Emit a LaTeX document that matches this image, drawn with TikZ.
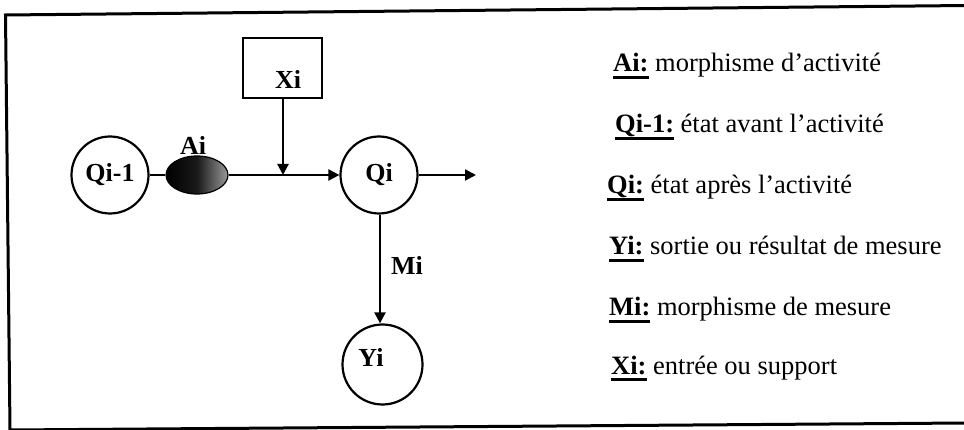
\documentclass[tikz,border=0pt]{standalone}
\usepackage{fontspec}
\setmainfont{Liberation Serif}
\usetikzlibrary{arrows.meta,shapes.geometric}
\newcommand\ulb[1]{\setbox0\hbox{\textbf{#1}}\rlap{\rule[-7pt]{\wd0}{3pt}}\box0\relax}
\tikzset{
  st/.style={circle, draw, line width=2.2pt, minimum size=77pt, inner sep=0pt, font=\fontsize{26}{28}\selectfont\bfseries},
  conn/.style={line width=2.2pt},
  arr/.style={conn, -{Triangle[length=11pt,width=11pt]}},
  lab/.style={font=\fontsize{26}{28}\selectfont\bfseries, inner sep=0pt},
  leg/.style={font=\fontsize{26.5}{30}\selectfont, anchor=base west, inner sep=0pt},
  frame/.style={line width=3pt}
}
\begin{document}
\begin{tikzpicture}[x=1pt,y=-1pt]
\useasboundingbox (0,0) rectangle (964,430);
% frame (slightly tilted, as scanned)
\coordinate (f1) at (966,5.5);
\coordinate (f2) at (5.5,15);
\coordinate (f3) at (10,430);
\coordinate (f4) at (966,423);
\draw[frame] (f1) -- (f2) -- (f3) -- (f4);
% nodes
\node[st] (q0) at (110,175) {Qi-1};
\node[ellipse, draw, line width=1.2pt, minimum width=62pt, minimum height=38pt, inner sep=0pt,
      left color=black, right color=black!40, middle color=black!90] (a) at (197,175) {};
\node[lab] (alab) at (193,145) {Ai};
\node[st] (qi) at (379,175) {Qi};
\node[st, minimum size=80pt] (yi) at (382.5,364.5) {};
\node[lab] (ylab) at (371,357) {Yi};
\node[draw, line width=1.8pt, minimum width=79pt, minimum height=60pt, inner sep=0pt] (xbox) at (282.5,68) {};
\node[lab] (xlab) at (288,79) {Xi};
\node[lab] (mlab) at (407,265) {Mi};
\coordinate (j) at (283,175);
\coordinate (out) at (476,175);
% connectors
\draw[conn] (q0) -- (a);
\draw[arr] (a) -- (qi);
\draw[arr] (xbox.south -| j) -- (j);
\draw[arr] (qi) -- (out);
\draw[arr] (qi.south -| 380,0) -- (yi.north -| 380,0);
% legend
\node[leg] (l1) at (613,72) {\ulb{Ai:} morphisme d’activité};
\node[leg] (l2) at (615,133) {\ulb{Qi-1:} état avant l’activité};
\node[leg] (l3) at (607,194) {\ulb{Qi:} état après l’activité};
\node[leg] (l4) at (609,255) {\ulb{Yi:} sortie ou résultat de mesure};
\node[leg] (l5) at (609,316) {\ulb{Mi:} morphisme de mesure};
\node[leg] (l6) at (611,374) {\ulb{Xi:} entrée ou support};
\end{tikzpicture}
\end{document}
